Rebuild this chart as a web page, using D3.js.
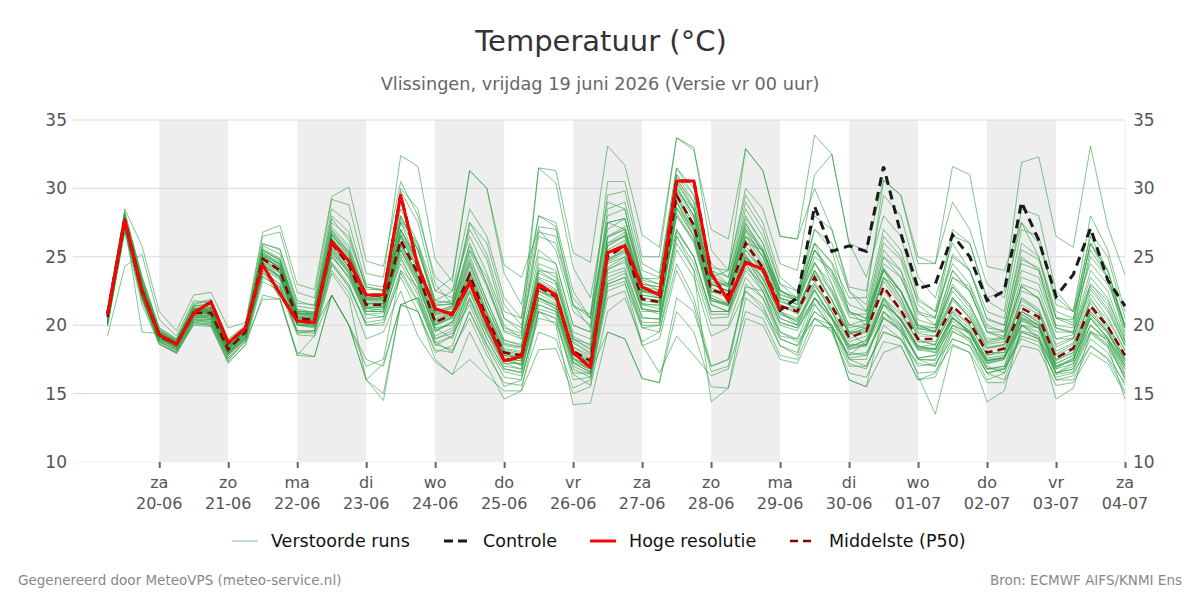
<!DOCTYPE html>
<html>
<head>
<meta charset="utf-8">
<script src="https://cdn.jsdelivr.net/npm/d3@7"></script>
<style>
  html, body { margin: 0; padding: 0; background: #fff; }
  svg { display: block; font-family: "DejaVu Sans", sans-serif; }
</style>
</head>
<body>
<svg id="chart" width="1200" height="600"></svg>
<script>
// ---------------- DATA ----------------
const startTime = "2026-06-19T06:00:00Z";   // first forecast step
const stepHours = 6;
const tickDates = ["20-06","21-06","22-06","23-06","24-06","25-06","26-06","27-06","28-06","29-06","30-06","01-07","02-07","03-07","04-07"];
const tickDays  = ["za","zo","ma","di","wo","do","vr","za","zo","ma","di","wo","do","vr","za"];
const yTicks = [10, 15, 20, 25, 30, 35];

// Hoge resolutie (HRES), 40 steps
const hres = [20.8,27.7,22.5,19.3, 18.6,20.9,21.7,18.7, 19.8,24.4,22.3,20.3, 20.2,26.1,24.7,22.2, 22.2,29.5,24.3,21.2,
              20.8,23.1,20.2,17.4, 17.7,23.0,22.2,18.0, 16.9,25.3,25.8,22.8, 22.2,30.55,30.55,23.8, 21.8,24.6,24.1,21.1];

// Controle, 60 steps
const control = [20.8,27.7,22.5,19.3, 18.6,20.9,21.7,18.7, 19.8,24.4,22.3,20.3, 20.2,26.1,24.7,22.2, 22.2,29.5,24.3,21.2,
                 20.8,23.1,20.2,17.4, 17.7,23.0,22.2,18.0, 16.9,25.3,25.8,22.8, 22.2,30.55,30.55,23.8, 21.8,24.6,24.1,21.1,
                 22.0,28.7,25.4,25.8, 25.4,31.6,26.7,22.7, 23.0,26.6,25.0,21.8, 22.5,29.0,26.2,22.1, 23.7,27.1,23.3,21.4];

// Middelste (P50), 60 steps
const p50 = [20.6,27.6,22.6,19.2, 18.6,20.9,20.9,18.2, 19.5,24.85,24.0,20.5, 20.4,26.0,24.4,21.5, 21.5,26.2,23.8,20.2,
             20.8,23.7,20.5,18.0, 17.8,22.8,22.1,18.1, 17.4,25.0,25.8,21.9, 21.7,29.5,27.3,22.6, 22.2,26.0,24.2,21.4,
             21.0,23.5,21.4,19.1, 19.55,22.8,21.1,19.0, 19.0,21.4,20.2,18.0, 18.3,21.25,20.6,17.6, 18.3,21.4,19.9,17.8];

// Verstoorde runs (ensemble members), 60 steps each
const members = [
 [20.9,28.0,23.1,19.6, 18.9,21.3,21.4,18.6, 19.8,25.6,24.9,21.0, 20.9,27.2,25.8,22.3, 22.0,27.5,24.6,20.9, 21.2,25.1,21.8,18.9, 18.5,24.0,23.2,19.0, 18.3,26.4,27.0,22.6, 22.4,30.8,28.6,23.4, 22.9,27.5,25.3,22.0, 21.5,24.6,22.3,19.8, 20.1,24.1,22.4,19.7, 19.6,22.8,21.3,18.7, 19.0,22.9,21.9,18.4, 19.0,22.6,21.0,18.5],
 [20.3,27.2,22.0,18.9, 18.3,20.5,20.4,17.8, 19.1,24.2,23.3,20.0, 19.8,25.0,23.6,21.0, 21.0,25.2,23.0,19.6, 20.2,22.9,19.8,17.4, 17.1,21.8,21.2,17.5, 16.8,24.1,24.6,21.0, 21.0,28.2,26.2,21.8, 21.5,25.0,23.3,20.8, 20.4,22.6,20.6,18.4, 18.9,21.9,20.3,18.4, 18.3,20.6,19.5,17.4, 17.7,20.3,19.8,17.0, 17.6,20.5,19.1,17.1],
 [21.2,28.3,23.6,19.8, 19.0,21.6,21.9,19.0, 20.0,26.5,26.8,22.4, 22.0,29.2,28.8,23.8, 23.5,32.4,31.6,24.8, 23.2,31.3,30.0,23.8, 21.5,28.0,27.2,21.5, 19.8,27.5,27.8,23.0, 22.8,30.2,28.0,23.0, 22.5,26.8,25.0,21.8, 21.2,24.0,21.8,19.3, 19.8,23.5,21.7,19.4, 19.2,22.0,20.8,18.4, 18.6,22.0,21.2,18.1, 18.7,22.3,20.6,18.2],
 [20.7,27.9,22.9,19.4, 18.8,21.0,21.2,18.4, 19.6,25.2,24.4,20.8, 20.6,26.6,25.2,21.8, 21.8,27.0,24.6,21.0, 21.4,25.4,22.8,19.6, 19.2,31.5,31.3,25.3, 24.6,33.1,31.7,26.6, 25.7,33.7,32.8,27.0, 26.3,32.9,31.3,26.5, 26.3,33.9,32.5,26.0, 25.4,30.6,29.5,25.0, 24.5,29.0,27.0,23.0, 22.0,27.5,25.0,21.0, 20.5,26.0,23.5,20.0],
 [19.9,26.8,21.5,18.6, 18.0,20.0,19.9,17.2, 18.6,23.2,22.5,19.3, 19.2,23.8,22.0,16.0, 14.5,21.5,22.0,18.8, 18.0,21.0,18.2,15.5, 16.0,21.0,20.0,14.2, 14.3,19.5,19.0,16.1, 15.8,21.0,19.5,15.5, 15.4,20.5,20.0,17.5, 17.2,20.0,19.8,16.0, 15.5,18.0,18.5,16.0, 16.2,19.0,18.5,16.0, 16.5,19.5,19.0,16.5, 16.8,19.5,19.0,16.8],
 [20.1,27.0,22.2,19.0, 18.4,20.6,20.5,17.9, 19.0,24.0,23.0,20.0, 20.0,25.4,23.8,20.5, 20.6,25.0,22.5,19.0, 19.6,22.0,19.0,16.8, 16.5,22.0,21.4,17.3, 16.8,23.8,24.2,20.6, 20.4,26.5,24.0,14.4, 15.4,22.0,21.0,18.5, 17.8,21.5,19.8,16.0, 15.5,21.0,19.5,16.3, 13.5,18.5,18.0,14.4, 15.2,20.0,19.2,14.6, 15.4,19.5,18.5,14.6],
 [21.0,28.5,25.8,21.0, 19.6,22.2,22.4,19.8, 20.2,26.8,27.3,23.0, 22.6,29.4,30.1,24.7, 24.3,30.5,28.0,23.5, 22.5,26.5,23.8,20.5, 19.8,25.5,24.5,20.0, 19.5,27.0,27.8,23.4, 23.4,31.5,29.5,24.0, 23.5,28.0,26.0,22.5, 22.0,26.0,24.5,21.0, 20.5,25.5,24.0,21.0, 20.0,24.0,22.5,19.5, 19.5,25.0,24.0,20.0, 19.8,25.0,23.5,19.5],
 [19.2,24.3,25.2,20.4, 19.2,21.8,21.6,18.6, 19.0,24.0,22.0,18.0, 17.7,22.2,20.0,16.0, 15.0,21.5,21.0,17.5, 16.4,17.5,16.3,15.2, 15.2,18.2,18.3,15.0, 15.5,21.0,22.0,18.8, 19.5,24.5,22.0,17.0, 17.5,22.5,21.5,18.5, 18.0,22.0,20.5,17.5, 17.5,21.0,20.0,17.5, 17.0,20.0,19.5,17.0, 16.5,20.5,20.0,16.5, 17.0,20.5,19.0,16.5],
 [20.2,27.5,19.5,19.4, 18.2,20.3,20.2,17.6, 18.8,21.9,21.9,17.8, 19.2,22.2,20.0,17.0, 17.5,24.0,22.8,19.8, 19.0,22.5,20.5,17.8, 17.0,24.0,23.8,19.0, 18.6,26.0,26.5,22.5, 22.0,28.6,27.0,22.0, 21.5,25.5,23.8,21.0, 20.0,22.0,20.0,17.8, 18.8,21.5,20.5,18.4, 18.6,21.0,19.2,17.4, 17.6,20.0,19.0,16.8, 17.2,19.6,18.6,16.2],
 [20.5,27.4,22.8,19.1, 18.5,21.1,21.3,18.0, 19.4,25.8,25.2,21.4, 21.2,27.8,26.2,22.8, 22.5,28.5,26.0,21.8, 21.6,27.5,25.2,21.0, 20.5,31.5,30.4,24.2, 22.0,29.0,28.5,23.2, 22.5,29.0,26.5,22.0, 21.4,25.0,23.5,21.0, 20.5,24.5,23.0,20.0, 19.8,24.0,22.5,19.8, 19.5,22.5,21.0,18.6, 18.8,22.5,22.0,19.0, 19.0,23.0,21.8,18.8],
 [20.8,27.8,23.2,19.5, 18.7,21.2,21.0,18.3, 19.7,25.0,24.3,20.8, 20.6,26.4,24.8,21.9, 21.8,26.6,24.5,20.8, 21.0,24.3,21.0,18.5, 18.3,23.4,22.6,18.7, 17.9,25.8,26.6,22.5, 22.2,30.0,28.0,23.2, 22.8,27.0,25.0,22.0, 21.6,25.0,24.0,21.5, 21.0,26.5,25.0,21.8, 21.0,27.0,26.0,22.0, 22.5,31.9,32.3,26.5, 25.7,33.1,27.2,23.7],
 [20.4,27.3,22.4,19.0, 18.6,20.8,21.0,18.1, 19.4,24.6,23.8,20.2, 20.2,25.6,24.0,21.2, 21.3,25.8,23.5,20.0, 20.5,23.5,20.2,17.8, 17.6,22.5,21.8,17.8, 17.2,24.6,25.3,21.5, 21.5,29.0,27.0,22.4, 22.5,26.5,25.5,22.5, 22.0,26.0,24.6,22.0, 22.0,30.6,29.5,24.5, 24.5,31.6,31.0,24.3, 24.0,27.5,26.0,22.0, 21.0,24.5,23.0,20.0],
 [20.0,27.1,21.8,18.7, 17.9,20.1,20.0,17.4, 18.9,23.5,22.8,19.4, 19.6,24.6,23.0,20.0, 20.0,23.8,21.6,18.6, 18.2,20.5,17.8,15.8, 15.6,19.5,19.0,15.4, 16.0,22.0,22.5,18.5, 19.0,24.0,21.5,16.6, 17.0,23.0,22.0,19.0, 18.5,21.0,20.0,17.5, 17.0,19.5,19.0,17.0, 17.2,19.0,18.5,16.5, 16.0,19.5,19.0,16.0, 16.3,19.0,18.0,15.6],
 [20.7,27.7,22.7,19.3, 18.6,21.0,20.8,18.2, 19.5,25.1,24.2,20.6, 20.5,26.2,24.6,21.6, 21.6,26.6,24.2,20.4, 20.9,23.9,20.8,18.2, 18.0,23.0,22.4,18.4, 17.6,25.3,26.0,22.2, 22.0,29.8,28.5,23.5, 24.0,32.9,31.3,26.5, 26.3,30.0,27.0,22.5, 21.0,24.0,22.0,19.5, 19.5,22.0,20.5,18.3, 18.5,21.5,20.8,17.8, 18.4,21.6,20.0,17.9],
 [20.2,27.0,22.3,18.9, 18.1,20.4,20.2,17.9, 19.2,24.5,23.5,20.2, 20.1,25.5,23.9,21.2, 21.1,25.5,23.3,19.8, 20.0,22.6,19.5,17.2, 17.2,21.5,21.0,17.3, 16.5,23.5,24.0,20.5, 20.5,27.0,25.0,21.0, 21.0,24.5,22.8,20.2, 19.8,22.0,20.5,18.3, 18.5,21.5,20.0,18.2, 18.0,20.3,19.4,17.2, 17.5,20.0,19.8,16.8, 17.6,20.0,19.0,16.8],
 [21.0,28.1,23.5,19.8, 19.0,21.5,21.8,18.9, 19.9,26.0,25.5,21.6, 21.5,28.5,27.5,23.0, 22.8,29.8,27.5,22.5, 22.0,27.0,24.8,20.5, 19.5,26.5,26.0,21.5, 20.5,30.5,30.5,25.0, 25.0,33.7,33.0,25.5, 24.0,29.5,27.5,23.5, 22.5,27.0,26.0,22.5, 21.5,27.0,25.5,21.5, 20.5,25.0,24.0,20.5, 20.0,26.0,25.0,20.5, 20.0,26.0,24.0,19.8],
 [20.4,27.2,22.6,19.2, 18.5,20.7,20.6,18.0, 19.3,24.4,23.6,20.3, 20.0,25.2,23.4,20.8, 20.9,24.5,22.2,19.0, 19.4,21.5,18.6,16.6, 16.3,20.5,20.2,16.4, 15.6,22.8,23.2,18.6, 16.5,19.2,17.8,16.3, 16.8,21.0,20.5,17.8, 17.5,20.5,20.0,17.2, 16.8,20.0,19.0,16.5, 16.6,18.6,18.0,15.8, 15.8,18.5,18.2,15.6, 15.8,18.0,17.2,15.0],
 [20.9,27.9,22.4,19.3, 18.8,21.1,21.1,18.4, 19.6,25.3,24.6,20.9, 20.8,26.8,25.4,22.0, 22.2,27.6,26.0,22.5, 23.5,31.3,30.0,24.4, 23.5,27.0,25.5,21.0, 20.0,27.5,27.8,23.3, 23.0,30.5,28.5,23.0, 22.5,26.5,25.0,22.0, 21.5,25.5,24.0,21.0, 20.5,24.0,22.5,20.0, 19.5,23.0,21.5,19.0, 19.0,23.0,22.5,19.0, 19.3,23.5,22.0,18.8],
 [20.3,27.4,22.1,18.8, 18.2,20.4,20.3,17.6, 19.0,23.8,23.0,19.6, 19.5,24.0,22.4,19.0, 19.5,22.5,19.2,17.3, 16.4,19.5,17.0,14.6, 15.2,21.0,20.5,16.0, 16.2,22.5,23.0,19.8, 20.0,26.0,24.0,20.0, 20.0,23.5,22.0,19.5, 19.0,21.0,20.0,17.6, 17.8,20.5,19.6,17.6, 17.8,20.0,19.0,16.8, 17.0,20.0,19.5,16.5, 17.2,20.0,18.8,16.4],
 [20.6,27.6,22.9,19.3, 18.7,21.0,21.1,18.3, 19.5,25.0,24.2,20.6, 20.4,26.3,24.8,21.5, 21.6,26.8,24.5,20.7, 21.0,24.5,21.4,18.6, 18.4,24.5,24.0,19.5, 19.0,26.5,27.0,22.8, 22.6,30.6,29.0,24.0, 23.0,27.8,26.0,22.6, 21.8,25.5,23.5,20.6, 20.3,25.0,23.5,20.4, 20.0,24.0,22.5,19.5, 19.0,23.5,23.0,19.5, 19.5,24.0,22.5,19.0],
 [20.0,27.0,22.0,18.6, 18.0,20.2,20.0,17.3, 18.5,22.2,21.9,17.8, 17.7,22.2,20.0,16.0, 17.2,21.5,21.0,18.0, 18.5,22.0,19.4,17.0, 16.8,22.3,21.6,17.6, 16.6,24.0,24.8,21.2, 20.8,28.0,26.2,21.8, 21.4,25.0,23.0,20.5, 20.0,22.5,20.5,18.6, 18.6,22.0,20.4,18.5, 18.2,20.5,19.6,17.5, 17.6,20.8,20.0,17.2, 17.8,21.0,19.5,17.4],
 [20.8,27.8,23.0,19.6, 18.9,21.4,21.5,18.6, 19.8,25.5,24.7,21.1, 20.8,27.0,25.6,22.2, 22.0,28.0,25.5,21.5, 21.5,26.0,23.0,19.5, 19.0,25.0,24.5,20.0, 19.5,28.5,29.0,24.0, 23.5,31.0,29.5,24.5, 23.5,29.0,27.0,23.0, 22.0,28.0,27.0,22.8, 22.5,29.5,28.0,23.5, 22.0,26.0,24.0,21.0, 20.5,27.0,26.5,21.5, 21.0,28.0,25.5,21.0],
 [20.5,27.5,22.5,19.1, 18.4,20.7,20.7,18.0, 19.2,24.6,23.6,20.3, 20.2,25.7,24.0,21.0, 21.2,25.6,23.2,19.6, 20.3,23.0,19.9,17.5, 17.4,22.0,21.4,17.6, 17.0,24.5,25.0,21.2, 21.0,28.5,26.5,21.5, 21.0,24.5,22.5,19.5, 18.8,20.5,19.5,16.5, 16.2,18.8,18.5,16.0, 16.5,19.5,19.0,16.5, 16.8,19.0,18.5,16.2, 16.5,18.5,17.6,15.8],
 [20.6,27.5,22.5,19.2, 18.6,20.9,20.8,18.2, 19.5,24.8,23.9,20.4, 20.3,26.0,24.5,21.6, 21.5,26.0,23.6,20.2, 20.8,23.5,20.4,18.0, 17.8,22.6,22.0,18.0, 17.4,25.2,25.8,22.0, 21.8,29.2,27.2,22.5, 22.2,25.8,24.0,21.4, 21.0,23.2,21.2,19.0, 19.5,22.5,21.0,18.8, 18.8,21.2,20.0,17.8, 18.2,21.0,20.4,17.5, 18.2,21.2,19.8,17.6],
 [20.7,27.9,23.3,19.6, 18.8,21.2,21.3,18.5, 19.7,25.4,24.8,21.0, 21.0,27.5,26.5,22.8, 22.6,30.0,28.5,23.0, 21.5,25.5,23.5,20.0, 19.0,23.5,23.0,18.8, 18.0,25.8,26.5,22.4, 22.4,30.0,28.0,23.0, 22.5,27.0,25.5,22.0, 21.0,24.0,22.5,19.5, 19.5,23.5,22.0,19.0, 18.5,22.0,20.5,18.0, 18.0,22.0,21.0,17.5, 18.0,22.0,20.0,17.5],
 [20.3,27.3,22.2,19.0, 18.3,20.6,20.5,17.8, 19.1,24.3,23.4,20.1, 19.9,22.2,20.0,17.5, 17.0,21.5,22.0,18.7, 19.2,23.0,20.8,18.0, 17.5,22.5,22.0,18.0, 17.2,24.8,25.4,21.5, 21.2,28.0,26.0,21.5, 21.0,25.0,23.8,21.0, 20.2,23.0,21.0,18.5, 18.5,21.5,20.5,18.5, 18.0,20.5,19.6,17.6, 17.8,21.0,20.2,17.2, 17.8,20.8,19.5,17.4],
 [20.9,28.2,23.4,19.7, 18.9,21.4,21.6,18.7, 19.8,25.9,25.6,21.8, 21.4,28.0,26.8,22.6, 22.6,28.0,25.5,21.4, 21.6,25.8,23.0,19.8, 19.4,26.8,26.5,21.4, 20.8,29.5,29.8,24.5, 23.8,31.5,30.0,24.2, 24.0,30.0,28.5,24.5, 24.0,31.0,32.5,26.0, 23.5,28.0,26.5,22.0, 21.0,24.5,23.0,20.0, 19.5,24.0,23.5,19.8, 19.5,23.0,21.5,18.5],
 [20.1,27.2,21.9,18.8, 18.0,20.2,20.1,17.5, 18.8,23.6,22.7,19.5, 19.4,24.4,22.8,20.0, 20.2,23.5,21.0,18.2, 18.0,21.0,18.5,16.2, 16.0,21.0,20.5,16.5, 16.5,23.0,23.5,19.8, 19.5,25.5,23.5,19.2, 19.8,22.5,21.2,19.0, 18.5,20.5,19.6,17.0, 17.0,19.5,19.0,17.2, 17.0,19.6,18.8,16.5, 16.8,19.2,18.8,16.0, 16.0,18.5,17.5,15.2],
 [20.6,27.7,22.7,19.4, 18.7,21.1,21.2,18.4, 19.6,25.1,24.5,20.9, 20.7,26.7,25.3,22.0, 21.9,27.8,25.8,21.6, 21.8,27.5,26.0,21.5, 20.0,27.2,27.0,22.0, 20.5,27.5,27.0,22.5, 22.5,27.0,25.0,21.0, 21.0,26.0,25.5,22.5, 21.8,27.0,25.5,21.0, 20.0,25.0,24.0,20.0, 19.5,23.5,22.5,19.5, 19.2,24.5,24.0,19.8, 19.4,25.5,23.5,19.2],
 [20.4,27.6,22.8,19.4, 18.6,21.0,21.0,18.2, 19.4,24.9,24.0,20.5, 20.4,26.0,24.2,21.3, 21.3,25.8,23.4,20.0, 20.6,23.3,20.0,17.6, 17.4,22.0,21.2,17.2, 16.6,19.5,19.0,16.1, 15.8,22.0,21.0,17.0, 17.5,22.8,22.5,19.2, 19.0,22.0,21.0,18.0, 17.8,20.5,19.8,17.5, 17.5,20.5,19.5,16.8, 17.0,20.5,19.8,16.5, 16.8,20.0,18.8,16.0],
 [20.8,27.9,23.0,19.5, 18.8,21.2,21.2,18.5, 19.8,25.5,24.8,21.2, 20.9,26.9,25.3,22.0, 22.0,27.0,24.8,21.0, 21.4,24.8,21.8,18.9, 18.6,24.2,23.5,19.2, 18.5,26.5,27.2,23.0, 22.8,31.0,29.0,23.6, 23.0,27.2,25.4,22.2, 21.8,24.6,22.6,20.0, 20.4,24.2,22.5,19.8, 19.8,22.8,21.5,18.8, 19.2,22.8,22.0,18.6, 19.1,22.8,21.2,18.6],
 [20.4,27.3,22.3,19.0, 18.4,20.6,20.6,17.9, 19.3,24.4,23.5,20.1, 20.0,25.3,23.8,21.0, 21.0,25.5,23.0,19.5, 20.2,23.0,19.8,17.4, 17.2,22.0,21.5,17.6, 16.9,24.2,25.0,21.2, 21.0,28.6,26.5,21.8, 21.6,25.2,23.4,20.8, 20.3,22.6,20.6,18.4, 18.9,21.8,20.3,18.3, 18.3,20.6,19.4,17.3, 17.6,20.4,19.8,16.9, 17.5,20.5,19.1,17.0],
 [20.6,27.6,22.7,19.3, 18.6,21.0,20.9,18.3, 19.5,25.0,24.1,20.6, 20.5,26.1,24.5,21.6, 21.6,26.4,24.0,20.3, 20.9,23.8,20.6,18.1, 17.9,23.0,22.3,18.2, 17.5,25.2,25.9,22.0, 21.8,29.6,27.4,22.7, 22.3,26.2,24.4,21.5, 21.1,23.8,21.8,19.5, 20.0,24.5,23.5,20.8, 20.5,26.5,26.0,21.8, 21.0,28.5,28.0,22.5, 21.0,26.5,24.0,20.0],
 [20.5,27.4,22.4,19.1, 18.5,20.8,20.8,18.1, 19.4,24.7,23.8,20.4, 20.3,25.8,24.2,21.3, 21.4,26.0,23.6,20.0, 20.6,23.4,20.2,17.8, 17.6,22.5,21.9,17.9, 17.2,24.7,25.5,21.6, 21.4,29.0,26.8,22.2, 21.6,24.8,23.0,20.2, 19.8,21.6,19.8,17.8, 18.0,20.6,19.6,17.5, 17.4,19.8,19.0,16.8, 16.8,19.6,19.2,16.4, 16.6,19.4,18.4,16.2],
 [20.7,27.8,22.8,19.4, 18.7,21.0,21.1,18.4, 19.6,25.2,24.4,20.9, 20.8,26.6,25.0,21.9, 22.0,27.5,25.5,21.8, 22.5,28.5,26.5,22.0, 20.5,28.0,27.5,22.5, 20.5,28.0,28.5,23.5, 23.0,29.5,27.0,22.5, 22.0,25.5,24.0,21.5, 20.8,23.0,21.0,18.8, 19.2,22.0,20.8,18.8, 18.6,21.0,20.0,17.8, 18.0,21.0,20.2,17.4, 18.0,21.0,19.6,17.4],
 [20.3,27.3,22.4,19.0, 18.4,20.7,20.7,18.0, 19.2,24.4,23.5,20.0, 19.9,25.0,23.5,20.8, 20.6,24.8,22.6,19.2, 19.8,22.4,19.6,17.2, 16.8,21.5,21.0,17.0, 16.4,23.2,23.8,20.2, 20.2,26.8,25.0,20.8, 20.8,24.2,23.0,20.5, 20.0,22.8,21.5,19.4, 19.6,23.5,22.5,20.0, 19.8,23.5,22.8,19.8, 19.6,24.8,24.2,20.5, 20.4,26.8,25.0,20.5],
 [20.7,27.7,22.8,19.3, 18.6,21.0,21.0,18.3, 19.6,25.0,24.2,20.7, 20.5,26.3,24.7,21.7, 21.7,26.5,24.2,20.5, 21.0,24.0,20.9,18.3, 18.1,23.2,22.5,18.4, 17.8,25.5,26.2,22.2, 22.0,29.8,27.8,23.0, 22.5,26.5,24.6,21.7, 21.3,24.0,21.9,19.4, 19.8,23.2,21.5,19.2, 19.2,21.8,20.6,18.3, 18.6,21.8,21.0,17.9, 18.6,21.8,20.4,18.1],
 [20.5,27.5,22.6,19.2, 18.5,20.9,20.9,18.2, 19.4,24.8,23.9,20.5, 20.3,25.9,24.3,21.4, 21.4,26.0,23.7,20.1, 20.7,23.6,20.4,17.9, 17.7,22.7,22.0,18.0, 17.3,24.8,25.6,21.8, 21.6,29.3,27.5,23.0, 23.0,28.5,26.5,23.0, 22.5,26.0,23.0,19.5, 18.5,21.0,19.8,17.6, 17.8,20.0,19.4,17.2, 17.5,20.6,20.0,17.0, 17.4,20.6,19.4,17.2],
 [20.2,27.1,22.0,18.8, 18.2,20.4,20.4,17.8, 19.0,23.8,22.8,19.6, 19.6,24.5,22.8,20.2, 20.4,24.0,21.8,18.5, 19.2,21.8,19.0,16.8, 16.6,21.2,20.8,16.8, 16.2,23.0,23.5,20.0, 20.0,26.5,24.5,20.5, 20.6,24.0,22.5,20.0, 19.6,22.0,20.4,18.2, 18.6,21.6,20.4,18.2, 18.2,20.8,19.8,17.4, 17.6,20.8,20.0,17.0, 17.4,20.8,19.5,17.0],
 [20.8,27.9,22.9,19.5, 18.8,21.2,21.2,18.4, 19.7,25.3,24.5,20.9, 20.7,26.6,25.0,21.9, 21.9,27.0,24.6,20.8, 21.3,24.6,21.4,18.7, 18.4,23.8,23.2,19.0, 18.2,26.0,26.8,22.6, 22.4,30.4,28.4,23.4, 22.8,27.4,25.6,22.3, 21.8,25.5,23.8,20.8, 20.8,26.0,24.8,21.0, 20.6,25.2,24.0,20.4, 20.0,25.5,24.8,20.6, 20.2,26.0,24.0,19.8]
];

// ---------------- CHART ----------------
const plot = { left: 73, right: 1125, top: 120, bottom: 462 };
const svg = d3.select("#chart");

const t0 = new Date(startTime);
const times = p50.map((_, i) => new Date(t0.getTime() + i * stepHours * 3600e3));
const tickTimes = tickDates.map(s => {
  const [dd, mm] = s.split("-").map(Number);
  return new Date(Date.UTC(2026, mm - 1, dd));
});

const x = d3.scaleUtc()
  .domain([new Date(Date.UTC(2026, 5, 18, 18)), tickTimes[tickTimes.length - 1]])
  .range([plot.left, plot.right]);
const y = d3.scaleLinear().domain([10, 35]).range([plot.bottom, plot.top]);

// Title
svg.append("text").attr("x", 601).attr("y", 51).attr("text-anchor", "middle")
  .attr("font-size", 29).attr("fill", "#333").text("Temperatuur (°C)");
svg.append("text").attr("x", 600).attr("y", 90).attr("text-anchor", "middle")
  .attr("font-size", 17.7).attr("fill", "#666")
  .text("Vlissingen, vrijdag 19 juni 2026 (Versie vr 00 uur)");

// Shaded alternate days
const bands = tickTimes.filter((d, i) => i % 2 === 0 && i < tickTimes.length - 1);
svg.append("g").selectAll("rect").data(bands).join("rect")
  .attr("x", d => x(d))
  .attr("width", d => x(new Date(d.getTime() + 864e5)) - x(d))
  .attr("y", plot.top).attr("height", plot.bottom - plot.top)
  .attr("fill", "#eeeeee");

// Grid
svg.append("g").selectAll("line").data(yTicks).join("line")
  .attr("x1", plot.left).attr("x2", plot.right)
  .attr("y1", d => y(d)).attr("y2", d => y(d))
  .attr("stroke", d => d === 10 ? "#f2f2f2" : "#d9d9d9").attr("stroke-width", 1);
svg.append("line").attr("x1", plot.right).attr("x2", plot.right)
  .attr("y1", plot.top).attr("y2", plot.bottom).attr("stroke", "#ececec");

// Y axes
const yl = svg.append("g").attr("transform", `translate(${plot.left - 6},0)`)
  .call(d3.axisLeft(y).tickValues(yTicks).tickSize(0).tickPadding(0));
const yr = svg.append("g").attr("transform", `translate(${plot.right + 8},0)`)
  .call(d3.axisRight(y).tickValues(yTicks).tickSize(0).tickPadding(0));
[yl, yr].forEach(g => {
  g.select(".domain").remove();
  g.selectAll("text").attr("font-size", 17).attr("fill", "#555").attr("font-family", "DejaVu Sans, sans-serif");
});

// X axis
const xa = svg.append("g").attr("transform", `translate(0,${plot.bottom})`)
  .call(d3.axisBottom(x).tickValues(tickTimes).tickSize(6).tickFormat(() => ""));
xa.select(".domain").remove();
xa.selectAll(".tick line").attr("stroke", "#666").attr("stroke-width", 2);
const xl = svg.append("g");
xl.selectAll("text.day").data(tickTimes).join("text").attr("class", "day")
  .attr("x", d => x(d)).attr("y", 488).attr("text-anchor", "middle")
  .attr("font-size", 16).attr("fill", "#555").text((d, i) => tickDays[i]);
xl.selectAll("text.date").data(tickTimes).join("text").attr("class", "date")
  .attr("x", d => x(d)).attr("y", 509).attr("text-anchor", "middle")
  .attr("font-size", 16).attr("fill", "#555").text((d, i) => tickDates[i]);

// Lines
const line = d3.line().x((d, i) => x(times[i])).y(d => y(d)).defined(d => d != null);
const memberColor = "#2e9e44";
svg.append("g").selectAll("path").data(members).join("path")
  .attr("d", line).attr("fill", "none")
  .attr("stroke", memberColor).attr("stroke-opacity", 0.6).attr("stroke-width", 1);

svg.append("path").datum(control).attr("d", line).attr("fill", "none")
  .attr("stroke", "#1a1a1a").attr("stroke-width", 3).attr("stroke-dasharray", "9,6");
svg.append("path").datum(p50).attr("d", line).attr("fill", "none")
  .attr("stroke", "#8b0000").attr("stroke-width", 2.5).attr("stroke-dasharray", "8,5");
svg.append("path").datum(hres).attr("d", line).attr("fill", "none")
  .attr("stroke", "#ff0000").attr("stroke-width", 3).attr("stroke-linejoin", "round");

// Legend
const legendItems = [
  { label: "Verstoorde runs", x: 232, color: memberColor, w: 1, dash: null, op: 0.6 },
  { label: "Controle", x: 444, color: "#1a1a1a", w: 3, dash: "9,5", op: 1 },
  { label: "Hoge resolutie", x: 590, color: "#ff0000", w: 3, dash: null, op: 1 },
  { label: "Middelste (P50)", x: 790, color: "#8b0000", w: 2.5, dash: "8,5", op: 1 }
];
const lg = svg.append("g");
legendItems.forEach(it => {
  lg.append("line").attr("x1", it.x).attr("x2", it.x + 26).attr("y1", 541).attr("y2", 541)
    .attr("stroke", it.color).attr("stroke-width", it.w).attr("stroke-opacity", it.op)
    .attr("stroke-dasharray", it.dash);
  lg.append("text").attr("x", it.x + 39).attr("y", 547).attr("font-size", 17.5)
    .attr("fill", "#111").text(it.label);
});

// Footer
svg.append("text").attr("x", 18).attr("y", 585).attr("font-size", 13.5).attr("fill", "#888")
  .text("Gegenereerd door MeteoVPS (meteo-service.nl)");
svg.append("text").attr("x", 1182).attr("y", 585).attr("text-anchor", "end").attr("font-size", 13.5).attr("fill", "#888")
  .text("Bron: ECMWF AIFS/KNMI Ens");
</script>
</body>
</html>
